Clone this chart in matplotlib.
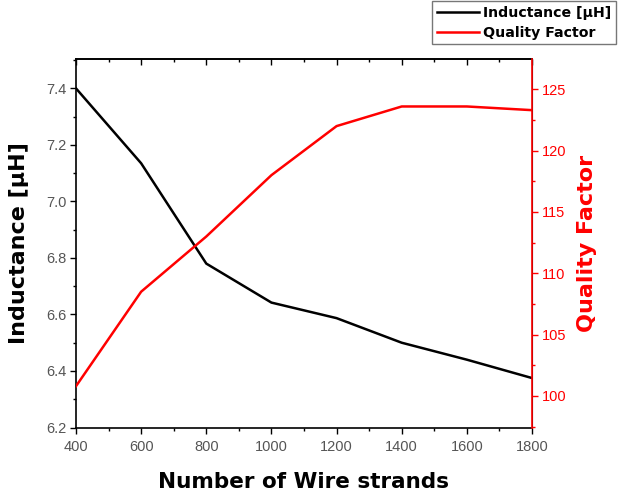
import matplotlib
matplotlib.use("Agg")
import matplotlib.pyplot as plt
from matplotlib.ticker import MultipleLocator

strands = [400, 600, 800, 1000, 1200, 1400, 1600, 1800]
inductance = [7.40, 7.135, 6.78, 6.642, 6.587, 6.50, 6.44, 6.375]
quality = [100.8, 108.5, 113.0, 118.0, 122.0, 123.6, 123.6, 123.3]

x_ticks = [400, 600, 800, 1000, 1200, 1400, 1600, 1800]
left_ticks = [6.2, 6.4, 6.6, 6.8, 7.0, 7.2, 7.4]
right_ticks = [100, 105, 110, 115, 120, 125]

plt.rcParams['font.family'] = ['Liberation Sans', 'DejaVu Sans']

fig = plt.figure(figsize=(6.19, 4.95), dpi=100)
ax = fig.add_axes([76/619, 1-427.5/495, (532-76)/619, (427.5-59)/495])
ax2 = ax.twinx()

l1, = ax.plot(strands, inductance, color='black', lw=1.8, label='Inductance [µH]')
l2, = ax2.plot(strands, quality, color='#ff0000', lw=1.8, label='Quality Factor')

ax.set_xlim(400, 1800)
ax.set_ylim(6.2, 7.504)
ax2.set_ylim(97.43, 127.47)

ax.set_xticks(x_ticks)
ax.set_xticklabels([str(v) for v in x_ticks])
ax.set_yticks(left_ticks)
ax.set_yticklabels([f"{v:.1f}" for v in left_ticks])
ax2.set_yticks(right_ticks)
ax2.set_yticklabels([str(v) for v in right_ticks])

ax.xaxis.set_minor_locator(MultipleLocator(100))
ax.yaxis.set_minor_locator(MultipleLocator(0.1))
ax2.yaxis.set_minor_locator(MultipleLocator(2.5))

tick_col = '#555555'
ax.tick_params(axis='x', which='major', direction='out', length=4, width=1,
               labelsize=10.5, labelcolor=tick_col, pad=5)
ax.tick_params(axis='x', which='minor', direction='out', length=2.5, width=1)
ax.tick_params(axis='y', which='major', direction='out', length=4, width=1,
               labelsize=10.5, labelcolor=tick_col, pad=3)
ax.tick_params(axis='y', which='minor', direction='out', length=2.5, width=1)

# top ticks pointing inward
top = ax.secondary_xaxis('top')
top.set_xticks(x_ticks)
top.xaxis.set_minor_locator(MultipleLocator(100))
top.tick_params(axis='x', which='major', direction='in', length=4, width=1, labeltop=False)
top.tick_params(axis='x', which='minor', direction='in', length=2.5, width=1)
top.spines['top'].set_linewidth(1.2)

ax2.tick_params(axis='y', which='major', direction='out', length=4, width=1,
                colors='#ff0000', labelsize=10.5, pad=3)
ax2.tick_params(axis='y', which='minor', direction='out', length=2.5, width=1,
                colors='#ff0000')

for s in ['left', 'bottom', 'top']:
    ax.spines[s].set_linewidth(1.2)
ax2.spines['right'].set_color('#ff0000')
ax2.spines['right'].set_linewidth(1.2)
ax2.spines['left'].set_visible(False)
ax2.spines['top'].set_visible(False)
ax2.spines['bottom'].set_visible(False)

ax.set_xlabel('Number of Wire strands', fontsize=15.5, fontweight='bold',
              family='DejaVu Sans', labelpad=13)
ax.set_ylabel('Inductance [µH]', fontsize=16, fontweight='bold',
              family='DejaVu Sans', labelpad=12)
ax2.set_ylabel('Quality Factor', fontsize=16, fontweight='bold',
               family='DejaVu Sans', color='#ff0000', labelpad=8)

leg = fig.legend(handles=[l1, l2], loc='upper left',
                 bbox_to_anchor=(431/619, 1.0), frameon=True, fancybox=False,
                 prop={'family': 'DejaVu Sans', 'weight': 'bold', 'size': 10.2},
                 handlelength=3.0, handletextpad=0.3, borderaxespad=0.1,
                 borderpad=0.3, labelspacing=0.45)
leg.get_frame().set_edgecolor('#555555')
leg.get_frame().set_linewidth(1)

fig.savefig('out.png', dpi=100)
